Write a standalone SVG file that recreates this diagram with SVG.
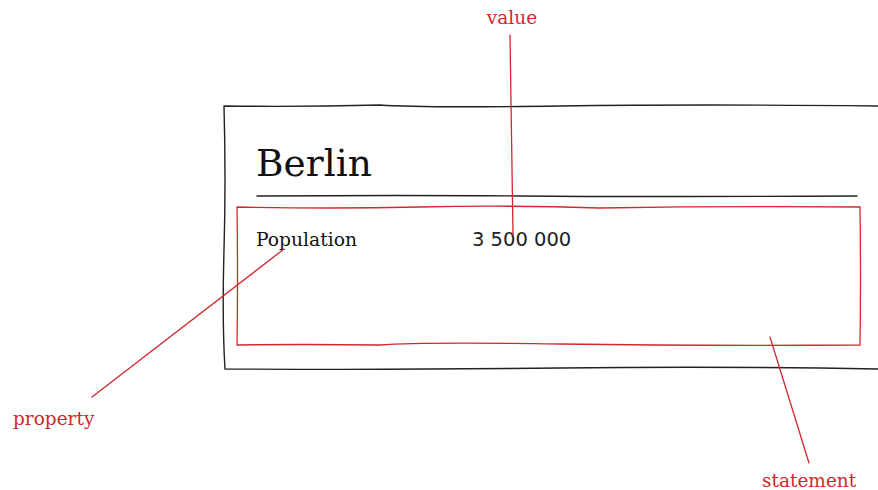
<svg xmlns="http://www.w3.org/2000/svg" width="878" height="490" viewBox="0 0 878 490">
<style>
.sk{fill:none;stroke:#222;stroke-width:1.4;stroke-linecap:round;stroke-linejoin:round}
.rd{fill:none;stroke:#d0282d;stroke-width:1.3;stroke-linecap:round;stroke-linejoin:round}
.lbl{font-family:"DejaVu Serif",serif;font-size:18.5px;fill:#d0282d}
.txt{font-family:"DejaVu Serif",serif;fill:#111}
</style>
<rect width="878" height="490" fill="#fff"/>
<g id="item">
<path class="sk" d="M880 106 Q700 104 560 106 T380 105 Q300 107 224 106 Q226 180 224 250 T225 369 Q400 370 560 368 T880 369"/>
<text class="txt" x="256" y="176" font-size="37.5">Berlin</text>
<path class="sk" d="M257 196 Q400 195 520 196 T857 196"/>
</g>
<g id="statement">
<path class="rd" d="M237 207 Q330 209 420 207 T600 208 Q730 206 860 207 Q861 280 860 345 Q700 346 560 344 T380 345 Q300 344 237 345 Q238 280 237 207 Z"/>
<text class="txt" x="256" y="246" font-size="18.7">Population</text>
<text x="472" y="246" font-size="19.5" font-family="'DejaVu Sans',sans-serif" fill="#222">3 500 000</text>
</g>
<g id="connectors">
<path class="rd" d="M510 35 L513 235"/>
<path class="rd" d="M92 397 L284 249"/>
<path class="rd" d="M770 337 L809 463"/>
</g>
<g id="labels">
<text class="lbl" x="512" y="24" text-anchor="middle">value</text>
<text class="lbl" x="13" y="425">property</text>
<text class="lbl" x="762" y="487">statement</text>
</g>
</svg>
